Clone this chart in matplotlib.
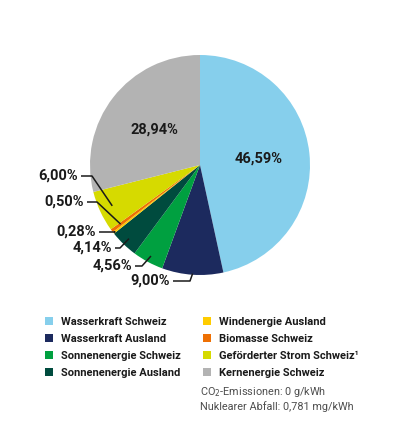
import numpy as np
import matplotlib

matplotlib.use("Agg")
import matplotlib.pyplot as plt

# --- data -----------------------------------------------------------------
categories = [
    "Wasserkraft Schweiz",
    "Wasserkraft Ausland",
    "Sonnenenergie Schweiz",
    "Sonnenenergie Ausland",
    "Windenergie Ausland",
    "Biomasse Schweiz",
    "Geförderter Strom Schweiz¹",
    "Kernenergie Schweiz",
]
shares = [46.59, 9.00, 4.56, 4.14, 0.28, 0.50, 6.00, 28.94]
share_labels = ["46,59%", "9,00%", "4,56%", "4,14%", "0,28%", "0,50%", "6,00%", "28,94%"]
notes = ["CO$_2$-Emissionen: 0 g/kWh", "Nuklearer Abfall: 0,781 mg/kWh"]

colors = ["#86cfec", "#1c2a5e", "#00a040", "#004b3e", "#ffcc00", "#ee7004", "#d6da00", "#b3b3b3"]

W, H = 400, 444
CX, CY, R = 200, 165, 110  # pie centre and radius in pixels
TEXT = "#1a1a1a"
FONT = ["Roboto", "DejaVu Sans"]

# labels drawn inside the pie (index -> radius)
inside = {0: 0.54, 7: 0.53}
# outside labels: index -> (anchor radius, elbow x px, elbow y px, text right x px)
outside = {
    6: (0.88, 92, 176, 78),
    5: (0.90, 97, 202, 84),
    4: (0.99, 115, 232, 96),
    3: (0.93, 120, 248, 112),
    2: (0.94, 142, 266, 132),
    1: (0.99, 190, 281, 170),
}


def px(x, y):
    """Pixel position (from top-left) -> pie data coordinates."""
    return (x - CX) / R, (CY - y) / R


fig = plt.figure(figsize=(W / 100, H / 100), dpi=100)
ax = fig.add_axes([(CX - R) / W, (H - CY - R) / H, 2 * R / W, 2 * R / H])
wedges, _ = ax.pie(
    shares,
    colors=colors,
    startangle=90,
    counterclock=False,
    radius=1,
    wedgeprops={"linewidth": 0},
)
ax.set_xlim(-1, 1)
ax.set_ylim(-1, 1)

for i, w in enumerate(wedges):
    mid = np.deg2rad((w.theta1 + w.theta2) / 2)
    if i in inside:
        r = inside[i]
        ax.text(r * np.cos(mid), r * np.sin(mid), share_labels[i],
                ha="center", va="center", fontsize=10.5, fontweight="bold",
                color=TEXT, family=FONT)
    elif i in outside:
        r, ex, ey, tx = outside[i]
        axp, ayp = r * np.cos(mid), r * np.sin(mid)
        x0, y0 = px(tx + 3, ey)
        x1, y1 = px(ex, ey)
        ax.plot([x0, x1, axp], [y0, y1, ayp], color=TEXT, lw=1.1,
                clip_on=False, solid_capstyle="butt")
        tx_d, ty_d = px(tx, ey)
        ax.text(tx_d, ty_d, share_labels[i], ha="right", va="center",
                fontsize=10.5, fontweight="bold", color=TEXT, family=FONT,
                clip_on=False)

leg = fig.legend(
    wedges,
    categories,
    ncol=2,
    loc="upper left",
    bbox_to_anchor=(45 / W, 1 - 317 / H),
    frameon=False,
    prop={"family": FONT, "weight": "bold", "size": 8},
    handlelength=0.75,
    handleheight=0.75,
    handletextpad=0.7,
    columnspacing=2.0,
    labelspacing=0.62,
    borderaxespad=0,
    borderpad=0,
)
for t in leg.get_texts():
    t.set_color(TEXT)

for k, note in enumerate(notes):
    fig.text(200 / W, 1 - (392 + 15 * k) / H, note, ha="left", va="center",
             fontsize=7.8, color="#4d4d4d", family=FONT)

fig.savefig("out.png", dpi=100)
